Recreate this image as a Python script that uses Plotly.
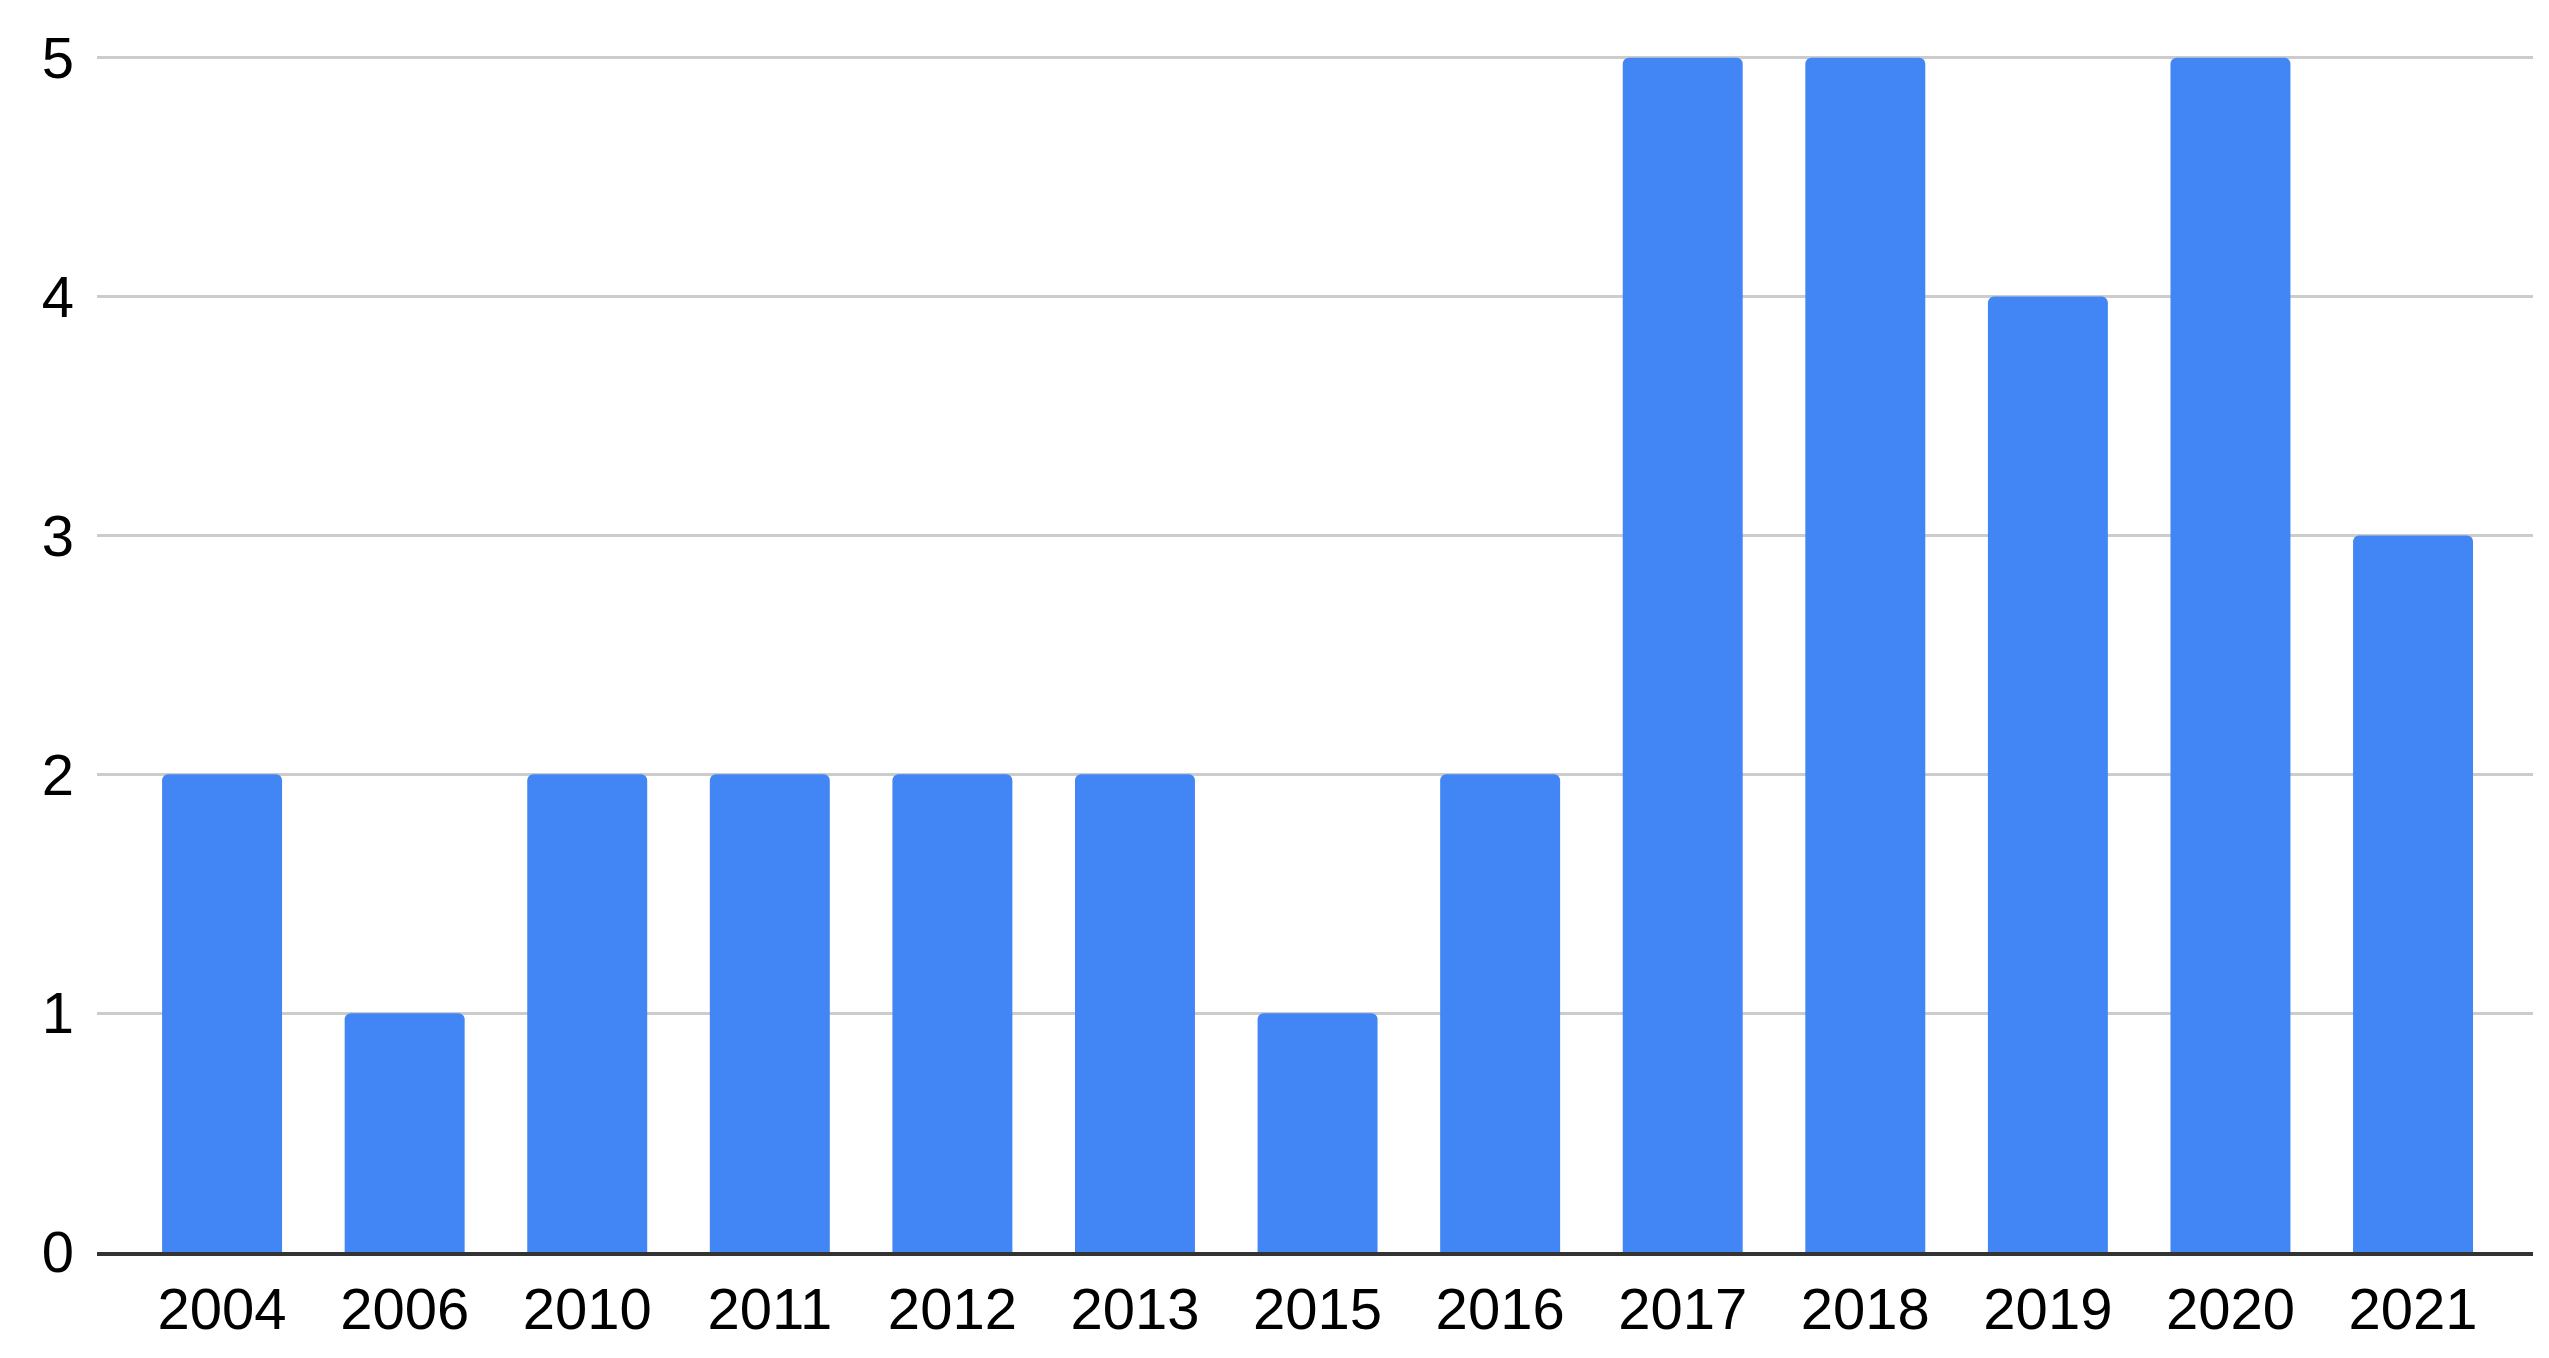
import plotly.graph_objects as go

years = ["2004", "2006", "2010", "2011", "2012", "2013", "2015", "2016",
         "2017", "2018", "2019", "2020", "2021"]
counts = [2, 1, 2, 2, 2, 2, 1, 2, 5, 5, 4, 5, 3]
y_ticks = [0, 1, 2, 3, 4, 5]

fig = go.Figure(go.Bar(x=years, y=counts, marker_color="#4285F4",
                       marker_line_width=0))

# page body has an 8px margin, so the figure is offset by 8px
fig.update_layout(
    width=2541, height=1350,
    margin=dict(l=89, r=16, t=45, b=106, pad=0),
    paper_bgcolor="white", plot_bgcolor="white",
    bargap=0.343, barcornerradius=6,
    font=dict(family="Liberation Sans, Arial, sans-serif", size=58, color="#000000"),
    showlegend=False,
)
fig.update_xaxes(
    type="category", range=[-0.685, 12.657],
    showgrid=False, showline=True, linecolor="#333333", linewidth=4,
    ticks="", ticklabelstandoff=3, zeroline=False,
)
fig.update_yaxes(
    range=[0, 5.02], tickvals=y_ticks, showgrid=True, gridcolor="#cccccc",
    gridwidth=3, zeroline=False, showline=False, ticks="",
    ticklabelstandoff=22,
)

fig.write_html("out.html")
